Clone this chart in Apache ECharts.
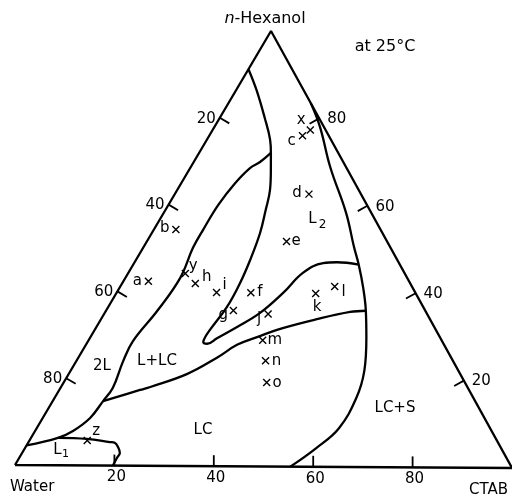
<!DOCTYPE html>
<html><head><meta charset="utf-8">
<script src="https://cdn.jsdelivr.net/npm/echarts@6/dist/echarts.min.js"></script>
<style>html,body{margin:0;padding:0;background:#fff}#c{width:512px;height:496px}</style>
</head><body><div id="c"></div>
<script>
// All compositions are [CTAB %, n-Hexanol %] (water = remainder)
const curveA = [[0,91.2],[4.1,86.4],[8.9,80.2],[12.7,75.0],[14.4,72.0],[16.4,68.1],[18.6,63.5],[20.1,58.9],[21.7,53.6],[22.9,47.4],[23.6,42.1],[23.8,36.6],[23.1,31.3],[23.0,29.6],[23.2,28.5],[24.2,28.1],[25.5,29.4],[28.2,32.0],[31.1,35.2],[33.4,39.9],[35.0,44.5],[37.9,46.8],[40.6,47.0],[45.2,46.5]];
const curveB = [[14.4,72.0],[13.3,69.9],[12.0,68.5],[10.8,65.0],[10.0,60.0],[9.9,54.2],[10.0,50.1],[11.0,43.2],[10.3,35.6],[9.0,28.6],[9.4,24.0],[10.5,17.8],[10.1,14.8],[9.5,10.9],[7.6,7.9],[5.4,6.3],[0,4.5]];
const curveC = [[10.1,14.8],[16.2,17.4],[17.9,18.1],[23.7,21.1],[27.8,24.9],[30.3,27.9],[33.4,29.7],[37.5,31.8],[43.3,33.9],[49.1,35.6],[52.1,35.9]];
const curveD = [[16.5,83.5],[21.2,78.0],[28.0,68.8],[36.6,58.3],[42.2,50.5],[45.2,46.5],[48.9,41.1],[52.1,35.9],[55.4,29.7],[58.9,22.1],[60.5,15.9],[60.6,8.9],[58.4,4.3],[55.4,0]];
const curveE = [[5.4,6.3],[11.3,6.1],[16.3,5.4],[17.45,5.2],[18.5,4.3],[19.6,2.9],[19.6,1.75],[19.7,0]];

const sampleNames   = ['a','b','c','x','d','e','f','g','h','i','j','k','l','m','n','o','y','z'];
const sampleCTAB    = [5.0,4.4,18.7,19.6,26.9,28.0,26.9,25.5,14.7,20.0,32.9,40.0,43.0,34.9,37.9,40.7,11.5,11.6];
const sampleHexanol = [42.4,54.3,76.0,77.3,62.6,51.7,39.9,35.8,41.9,39.9,35.0,39.8,41.4,29.0,24.3,19.3,44.2,5.7];

const leftTicks   = [20,40,60,80];  // water %
const rightTicks  = [20,40,60,80];  // n-hexanol %
const bottomTicks = [20,40,60,80];  // CTAB %

// ---- layout (pixel positions of the triangle corners) ----
const W = [15,465], C = [512,468], H = [271,31];
function toXY(c,h){
  return [W[0]+c/100*(C[0]-W[0])+h/100*(H[0]-W[0]), W[1]+c/100*(C[1]-W[1])+h/100*(H[1]-W[1])];
}
const FONT = '"DejaVu Sans", sans-serif';
const labelOffsets = {a:[-11,0],b:[-11,-1],c:[-11,5],x:[-9,-10],d:[-12,-1],e:[9.5,0],f:[9,-1],g:[-10,5],h:[11.5,-6],i:[8,-7],j:[-9,5],k:[1.5,13.5],l:[9,5],m:[12,0],n:[11,0],o:[10.5,1],y:[8,-7],z:[9,-10]};

function lineSeries(pts, smooth){
  return {type:'line', data: pts.map(p=>toXY(p[0],p[1])), smooth: smooth, symbol:'none',
    lineStyle:{color:'#000', width:2.3, opacity:1}, silent:true, z:2};
}

const tickData = [];
leftTicks.forEach(v=>tickData.push([...toXY(0,100-v),0,v]));
rightTicks.forEach(v=>tickData.push([...toXY(100-v,v),1,v]));
bottomTicks.forEach(v=>tickData.push([...toXY(v,0),2,v]));
const dirs = [[0.861,0.508],[-0.875,0.484],[0,-1]];

const chart = echarts.init(document.getElementById('c'), null, {renderer:'canvas'});
chart.setOption({
  animation:false,
  grid:{left:0,right:0,top:0,bottom:0},
  xAxis:{type:'value',min:0,max:512,show:false},
  yAxis:{type:'value',min:0,max:496,inverse:true,show:false},
  series:[
    lineSeries([[0,0],[100,0],[0,100],[0,0]], false),
    lineSeries(curveA, 0.4),
    lineSeries(curveB, 0.4),
    lineSeries(curveC, 0.4),
    lineSeries(curveD, 0.4),
    lineSeries(curveE, 0.4),
    {type:'custom', data: tickData, encode:{x:0,y:1}, silent:true, z:3,
      renderItem:function(params, api){
        const p = api.coord([api.value(0), api.value(1)]);
        const k = api.value(2); const d = dirs[k];
        let tx, ty, al;
        if(k===0){tx=p[0]-4; ty=p[1]+1; al='right';}
        else if(k===1){tx=p[0]+8; ty=p[1]+1; al='left';}
        else {tx=p[0]+2; ty=p[1]+12; al='center';}
        return {type:'group', children:[
          {type:'line', shape:{x1:p[0],y1:p[1],x2:p[0]+d[0]*11,y2:p[1]+d[1]*11}, style:{stroke:'#000',lineWidth:1.8}},
          {type:'text', x:tx, y:ty, style:{text:String(api.value(3)), fontSize:15, fontFamily:FONT, fill:'#000', align:al, verticalAlign:'middle'}}
        ]};
      }
    },
    {type:'scatter', z:4, silent:true,
      symbol:'path://M0,0L10,10M10,0L0,10', symbolSize:7,
      itemStyle:{color:'rgba(0,0,0,0)', borderColor:'#000', borderWidth:1.4, opacity:1},
      data: sampleNames.map((n,i)=>({name:n, value:toXY(sampleCTAB[i], sampleHexanol[i]),
        label:{show:true, position:'inside', offset:labelOffsets[n], formatter:n, color:'#000', opacity:1, fontSize:15, fontFamily:FONT}}))
    }
  ],
  graphic:[
    {type:'text', x:265, y:19, style:{text:'{i|n}-Hexanol', fontSize:16, fontFamily:FONT, fill:'#000', align:'center', verticalAlign:'middle',
      rich:{i:{fontStyle:'italic', fontSize:16, fontFamily:FONT}}}},
    {type:'text', x:385, y:47, style:{text:'at 25°C', fontSize:16, fontFamily:FONT, fill:'#000', align:'center', verticalAlign:'middle'}},
    {type:'text', x:10, y:487, style:{text:'Water', fontSize:15, fontFamily:FONT, fill:'#000', align:'left', verticalAlign:'middle'}},
    {type:'text', x:469, y:490, style:{text:'CTAB', fontSize:15, fontFamily:FONT, fill:'#000', align:'left', verticalAlign:'middle'}},
    {type:'text', x:102, y:366, style:{text:'2L', fontSize:15, fontFamily:FONT, fill:'#000', align:'center', verticalAlign:'middle'}},
    {type:'text', x:157, y:361, style:{text:'L+LC', fontSize:15, fontFamily:FONT, fill:'#000', align:'center', verticalAlign:'middle'}},
    {type:'text', x:203, y:430, style:{text:'LC', fontSize:15, fontFamily:FONT, fill:'#000', align:'center', verticalAlign:'middle'}},
    {type:'text', x:395, y:408, style:{text:'LC+S', fontSize:15, fontFamily:FONT, fill:'#000', align:'center', verticalAlign:'middle'}},
    {type:'text', x:312.5, y:219, style:{text:'L', fontSize:15, fontFamily:FONT, fill:'#000', align:'center', verticalAlign:'middle'}},
    {type:'text', x:322.5, y:225, style:{text:'2', fontSize:12, fontFamily:FONT, fill:'#000', align:'center', verticalAlign:'middle'}},
    {type:'text', x:57.5, y:450, style:{text:'L', fontSize:15, fontFamily:FONT, fill:'#000', align:'center', verticalAlign:'middle'}},
    {type:'text', x:65.5, y:454, style:{text:'1', fontSize:11, fontFamily:FONT, fill:'#000', align:'center', verticalAlign:'middle'}}
  ]
});
</script></body></html>
